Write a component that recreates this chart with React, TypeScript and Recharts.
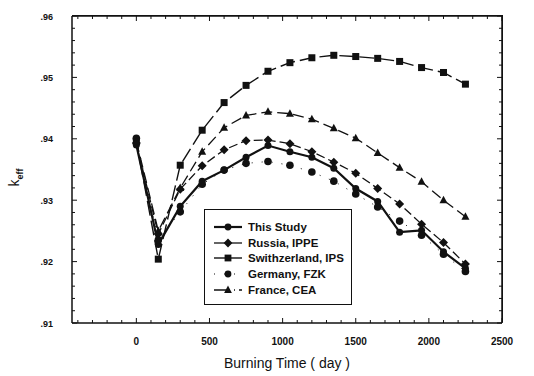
import { LineChart, Line, XAxis, YAxis, Legend, Label } from 'recharts';

// burning time (day)
const days = [0, 150, 300, 450, 600, 750, 900, 1050, 1200, 1350, 1500, 1650, 1800, 1950, 2100, 2250];

// k_eff
const thisStudy = [0.939, 0.9228, 0.929, 0.9331, 0.9349, 0.937, 0.9389, 0.9379, 0.937, 0.9352, 0.9319, 0.9298, 0.9248, 0.9251, 0.9216, 0.9189];
const russia = [0.9393, 0.9245, 0.9318, 0.9356, 0.9382, 0.9397, 0.9398, 0.9392, 0.9379, 0.9362, 0.9344, 0.9319, 0.9294, 0.9261, 0.9231, 0.9196];
const switzerland = [0.9395, 0.9204, 0.9357, 0.9414, 0.9459, 0.9487, 0.951, 0.9524, 0.9532, 0.9536, 0.9534, 0.9531, 0.9526, 0.9516, 0.9508, 0.9489];
const germany = [0.9401, 0.9235, 0.9281, 0.9326, 0.9349, 0.936, 0.9363, 0.9357, 0.9346, 0.9331, 0.931, 0.9289, 0.9266, 0.9243, 0.9212, 0.9184];
const france = [0.9396, 0.925, 0.932, 0.9379, 0.9418, 0.9438, 0.9444, 0.9441, 0.9432, 0.9417, 0.9401, 0.9377, 0.9353, 0.933, 0.93, 0.9273];

const seriesNames = ['This Study', 'Russia, IPPE', 'Swithzerland, IPS', 'Germany, FZK', 'France, CEA'];

const xDomain = [-440, 2500];
const yDomain = [0.91, 0.96];
const xMajorTicks = [0, 500, 1000, 1500, 2000, 2500];
const xTicks = [-400, -300, -200, -100, 0, 100, 200, 300, 400, 500, 600, 700, 800, 900, 1000, 1100, 1200, 1300, 1400, 1500, 1600, 1700, 1800, 1900, 2000, 2100, 2200, 2300, 2400, 2500];
const yMajorTicks = [0.91, 0.92, 0.93, 0.94, 0.95, 0.96];
const yTicks = [0.91, 0.912, 0.914, 0.916, 0.918, 0.92, 0.922, 0.924, 0.926, 0.928, 0.93, 0.932, 0.934, 0.936, 0.938, 0.94, 0.942, 0.944, 0.946, 0.948, 0.95, 0.952, 0.954, 0.956, 0.958, 0.96];

const data = days.map((d, i) => ({
  day: d,
  thisStudy: thisStudy[i],
  russia: russia[i],
  switzerland: switzerland[i],
  germany: germany[i],
  france: france[i],
}));

const INK = '#111';
const FONT = '"Liberation Sans", Arial, sans-serif';
const W = 534;
const H = 376;
const M = { top: 16, right: 32, left: 72, bottom: 53 };

const isMajorY = (v: number) => yMajorTicks.some((m) => Math.abs(m - v) < 1e-6);

const Marker = ({ shape, cx, cy, r }: { shape: string; cx: number; cy: number; r: number }) => {
  if (shape === 'square') return <rect x={cx - r} y={cy - r} width={r * 2} height={r * 2} fill={INK} />;
  if (shape === 'diamond')
    return <polygon points={`${cx},${cy - r - 1} ${cx + r + 1},${cy} ${cx},${cy + r + 1} ${cx - r - 1},${cy}`} fill={INK} />;
  if (shape === 'triangle')
    return <polygon points={`${cx},${cy - r - 1} ${cx + r + 0.5},${cy + r - 0.5} ${cx - r - 0.5},${cy + r - 0.5}`} fill={INK} />;
  return <circle cx={cx} cy={cy} r={r} fill={INK} />;
};

const makeDot = (shape: string, r = 3.6) => (props: any) => {
  const { cx, cy, index } = props;
  if (cx == null || cy == null) return <g key={`${shape}-${index}`} />;
  return (
    <g key={`${shape}-${index}`}>
      <Marker shape={shape} cx={cx} cy={cy} r={r} />
    </g>
  );
};

const series = [
  { key: 'thisStudy', shape: 'circle', width: 2.2, dash: undefined },
  { key: 'russia', shape: 'diamond', width: 1.3, dash: '9 4' },
  { key: 'switzerland', shape: 'square', width: 1.4, dash: '15 5' },
  { key: 'germany', shape: 'circle', width: 1, dash: '1 9' },
  { key: 'france', shape: 'triangle', width: 1.3, dash: '11 5' },
];

// ticks: draw the inward tick line + label ourselves
const BottomTick = (props: any) => {
  const { x, y, payload } = props;
  const major = xMajorTicks.includes(payload.value);
  return (
    <g>
      <line x1={x} x2={x} y1={y} y2={y - (major ? 5 : 3)} stroke={INK} strokeWidth={1} />
      {major && payload.value >= 0 && (
        <text x={x} y={y + 22} textAnchor="middle" fontSize={10} fontWeight="bold" fontFamily={FONT} fill={INK}>
          {payload.value}
        </text>
      )}
    </g>
  );
};

const TopTick = (props: any) => {
  const { x, y, payload } = props;
  const major = xMajorTicks.includes(payload.value);
  return <line x1={x} x2={x} y1={y} y2={y + (major ? 5 : 3)} stroke={INK} strokeWidth={1} />;
};

const LeftTick = (props: any) => {
  const { x, y, payload } = props;
  const major = isMajorY(payload.value);
  return (
    <g>
      <line x1={x} x2={x + (major ? 5 : 3)} y1={y} y2={y} stroke={INK} strokeWidth={1} />
      {major && (
        <text x={x - 19} y={y + 3.5} textAnchor="end" fontSize={9} fontWeight="bold" fontFamily={FONT} fill={INK}>
          {payload.value.toFixed(2).replace(/^0/, '')}
        </text>
      )}
    </g>
  );
};

const RightTick = (props: any) => {
  const { x, y, payload } = props;
  const major = isMajorY(payload.value);
  return <line x1={x} x2={x - (major ? 5 : 3)} y1={y} y2={y} stroke={INK} strokeWidth={1} />;
};

const renderLegend = () => (
  <div
    style={{
      boxSizing: 'border-box',
      width: 148,
      height: 96,
      border: `1.4px solid ${INK}`,
      background: '#fff',
      paddingTop: 9,
      fontFamily: FONT,
    }}
  >
    {series.map((s, i) => (
      <div key={s.key} style={{ display: 'flex', alignItems: 'center', height: 15.7 }}>
        <svg width={30} height={14} style={{ marginLeft: 8, display: 'block' }}>
          <line
            x1={1}
            x2={29}
            y1={7}
            y2={7}
            stroke={INK}
            strokeWidth={s.key === 'germany' ? 1 : s.width}
            strokeDasharray={s.key === 'germany' ? '1 9' : s.key === 'france' ? '16 4 1 4' : undefined}
          />
          <Marker shape={s.shape} cx={15} cy={7} r={3.4} />
        </svg>
        <span style={{ marginLeft: 5, fontSize: 11.5, fontWeight: 'bold', color: INK, whiteSpace: 'nowrap', lineHeight: '14px' }}>
          {seriesNames[i]}
        </span>
      </div>
    ))}
  </div>
);

const App = () => {
  return (
    <div style={{ position: 'absolute', left: 0, top: 0, width: W, height: H, background: '#fff' }}>
      <LineChart width={W} height={H} data={data} margin={{ top: M.top, right: M.right, left: 0, bottom: 0 }}>
        <XAxis
          dataKey="day"
          type="number"
          domain={xDomain}
          allowDataOverflow
          ticks={xTicks}
          interval={0}
          tickSize={0}
          tickMargin={0}
          tickLine={false}
          tick={<BottomTick />}
          height={M.bottom}
          axisLine={{ stroke: INK, strokeWidth: 1.5 }}
        >
          <Label
            value="Burning Time ( day )"
            position="insideBottom"
            offset={8}
            style={{ fontSize: 14, fontFamily: FONT, fill: INK }}
          />
        </XAxis>
        <YAxis
          type="number"
          domain={yDomain}
          allowDataOverflow
          ticks={yTicks}
          interval={0}
          tickSize={0}
          tickMargin={0}
          tickLine={false}
          tick={<LeftTick />}
          width={M.left}
          axisLine={{ stroke: INK, strokeWidth: 1.5 }}
        >
          <Label
            content={(p: any) => {
              const vb = p.viewBox || { x: 0, y: 16, height: 307 };
              const cx = vb.x + 19;
              const cy = vb.y + vb.height / 2 + 8;
              return (
                <text
                  x={cx}
                  y={cy}
                  transform={`rotate(-90, ${cx}, ${cy})`}
                  textAnchor="middle"
                  fontFamily={FONT}
                  fontSize={14}
                  fill={INK}
                >
                  k
                  <tspan fontSize={9} fontWeight="bold" dy={4}>
                    eff
                  </tspan>
                </text>
              );
            }}
          />
        </YAxis>
        <Legend
          layout="vertical"
          align="center"
          verticalAlign="middle"
          wrapperStyle={{ left: 204, top: 209, width: 148, height: 96 }}
          content={renderLegend}
        />
        {series.map((s, i) => (
          <Line
            key={s.key}
            dataKey={s.key}
            name={seriesNames[i]}
            type="linear"
            stroke={INK}
            strokeWidth={s.width}
            strokeDasharray={s.dash}
            dot={makeDot(s.shape, s.key === 'germany' ? 3.8 : 3.5)}
            activeDot={false}
            isAnimationActive={false}
          />
        ))}
      </LineChart>

      {/* top / right frame: a second chart laid over the first, whose primary axes sit on top and right */}
      <div style={{ position: 'absolute', left: 0, top: 0, pointerEvents: 'none' }}>
        <LineChart width={W} height={H} data={data} margin={{ top: M.top - 1, right: M.right - 1, left: M.left, bottom: M.bottom }}>
          <XAxis
            orientation="top"
            dataKey="day"
            type="number"
            domain={xDomain}
            allowDataOverflow
            ticks={xTicks}
            interval={0}
            tickSize={0}
            tickMargin={0}
            tickLine={false}
            tick={<TopTick />}
            height={1}
            axisLine={{ stroke: INK, strokeWidth: 1.5 }}
          />
          <YAxis
            orientation="right"
            type="number"
            domain={yDomain}
            allowDataOverflow
            ticks={yTicks}
            interval={0}
            tickSize={0}
            tickMargin={0}
            tickLine={false}
            tick={<RightTick />}
            width={1}
            axisLine={{ stroke: INK, strokeWidth: 1.5 }}
          />
          <Line dataKey="thisStudy" stroke="none" dot={false} activeDot={false} legendType="none" isAnimationActive={false} />
        </LineChart>
      </div>

      {/* plain frame edges as a fallback */}
      <div
        style={{
          position: 'absolute',
          left: M.left,
          top: M.top - 0.75,
          width: W - M.left - M.right + 0.75,
          height: H - M.top - M.bottom,
          boxSizing: 'border-box',
          borderTop: `1.5px solid ${INK}`,
          borderRight: `1.5px solid ${INK}`,
          pointerEvents: 'none',
        }}
      />
    </div>
  );
};

export default App;
